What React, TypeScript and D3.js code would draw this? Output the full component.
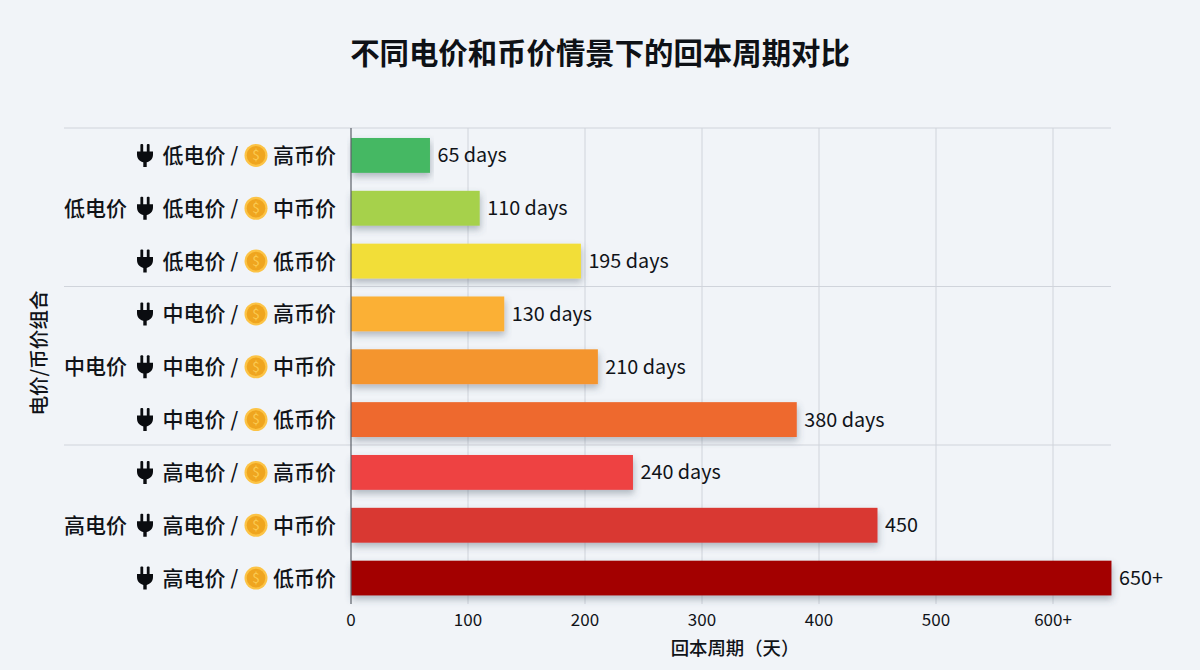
import React from "react";
import * as d3 from "d3";

const title = "不同电价和币价情景下的回本周期对比";
const elecLevels = ["低电价","低电价","低电价","中电价","中电价","中电价","高电价","高电价","高电价"];
const coinLevels = ["高币价","中币价","低币价","高币价","中币价","低币价","高币价","中币价","低币价"];
const groupLabels = ["低电价","中电价","高电价"];
const values = [67.5,110,196.5,131,211,381,241,450,650];
const valueLabels = ["65 days","110 days","195 days","130 days","210 days","380 days","240 days","450","650+"];
const barColors = ["#45b863","#a6d14b","#f2de38","#fbb034","#f4952d","#ee692e","#ee4343","#d93733","#a30000"];
const xTicks = [0,100,200,300,400,500,600];
const xTickLabels = ["0","100","200","300","400","500","600+"];
const yAxisTitle = "电价/币价组合";
const xAxisTitle = "回本周期（天）";

const FONT = '"Noto Sans CJK SC","Noto Sans",sans-serif';
const INK = "#101318";

function Plug({ cx, cy }: { cx: number; cy: number }) {
  return (
    <g transform={`translate(${cx},${cy})`} fill="#0a0c10">
      <rect x={-4.6} y={-11.5} width={2.8} height={9} rx={1} />
      <rect x={1.8} y={-11.5} width={2.8} height={9} rx={1} />
      <path d="M-8,-4 H8 V-1 C8,3.8 4.6,6.2 1.7,6.8 V11.5 H-1.7 V6.8 C-4.6,6.2 -8,3.8 -8,-1 Z" />
    </g>
  );
}

function Coin({ cx, cy }: { cx: number; cy: number }) {
  return (
    <g transform={`translate(${cx},${cy})`}>
      <circle r={11.5} fill="#fcc345" />
      <circle r={9.3} fill="#efa51f" />
      <text textAnchor="middle" y={4.8} fontSize={13.5} fontFamily={FONT} fill="#fbcb52">$</text>
    </g>
  );
}

export default function App() {
  const x = d3.scaleLinear().domain([0, 600]).range([351, 1053]);
  const y = d3.scaleBand<number>().domain(d3.range(values.length)).range([129, 604.5]).paddingInner(0.34).paddingOuter(0.17);
  const step = y.step();
  const top = 128;
  const bottom = 604;
  const separators = [0, 3, 6].map((i) => top + step * i);

  return (
    <svg width={1200} height={670} viewBox="0 0 1200 670" style={{ position: "fixed", left: 0, top: 0, display: "block" }} fontFamily={FONT}>
      <defs>
        <filter id="barShadow" x="-5%" y="-30%" width="110%" height="180%">
          <feDropShadow dx={1} dy={4} stdDeviation={3.5} floodColor="#4a5468" floodOpacity={0.38} />
        </filter>
      </defs>
      <rect width={1200} height={670} fill="#f1f4f8" />
      <text x={600} y={63.5} textAnchor="middle" fontSize={29.4} fontWeight={700} fill="#0e1116">{title}</text>

      {xTicks.slice(1).map((t) => (
        <line key={t} x1={x(t)} x2={x(t)} y1={top} y2={bottom} stroke="#d0d4db" strokeWidth={1} />
      ))}
      {separators.map((s) => (
        <line key={s} x1={64} x2={1111} y1={s} y2={s} stroke="#d0d4db" strokeWidth={1} />
      ))}

      {values.map((v, i) => {
        const by = y(i)!;
        const h = y.bandwidth();
        const cy = by + h / 2;
        return (
          <g key={i}>
            <rect x={x(0)} y={by} width={x(v) - x(0)} height={h} fill={barColors[i]} filter="url(#barShadow)" />
            <text x={x(v) + 7.5} y={cy + 7} fontSize={19.8} fill={INK}>{valueLabels[i]}</text>
            <Plug cx={145} cy={cy} />
            <text x={225.5} y={cy + 7.5} textAnchor="end" fontSize={21} fontWeight={500} fill={INK}>{elecLevels[i]}</text>
            <text x={234.5} y={cy + 7} textAnchor="middle" fontSize={20} fontWeight={500} fill={INK}>/</text>
            <Coin cx={256} cy={cy} />
            <text x={336} y={cy + 7.5} textAnchor="end" fontSize={21} fontWeight={500} fill={INK}>{coinLevels[i]}</text>
          </g>
        );
      })}

      {groupLabels.map((g, i) => (
        <text key={g} x={64} y={y(i * 3 + 1)! + y.bandwidth() / 2 + 7.5} fontSize={21} fontWeight={500} fill={INK}>{g}</text>
      ))}

      <line x1={351} x2={351} y1={top} y2={bottom} stroke="#5c6068" strokeWidth={1.2} />

      {xTicks.map((t, i) => (
        <text key={t} x={x(t)} y={626} textAnchor="middle" fontSize={17} fill={INK}>{xTickLabels[i]}</text>
      ))}
      <text x={735} y={655} textAnchor="middle" fontSize={18.4} fontWeight={500} fill={INK}>{xAxisTitle}</text>
      <text transform="translate(46,353) rotate(-90)" textAnchor="middle" fontSize={19.6} fontWeight={500} fill={INK}>{yAxisTitle}</text>
    </svg>
  );
}
